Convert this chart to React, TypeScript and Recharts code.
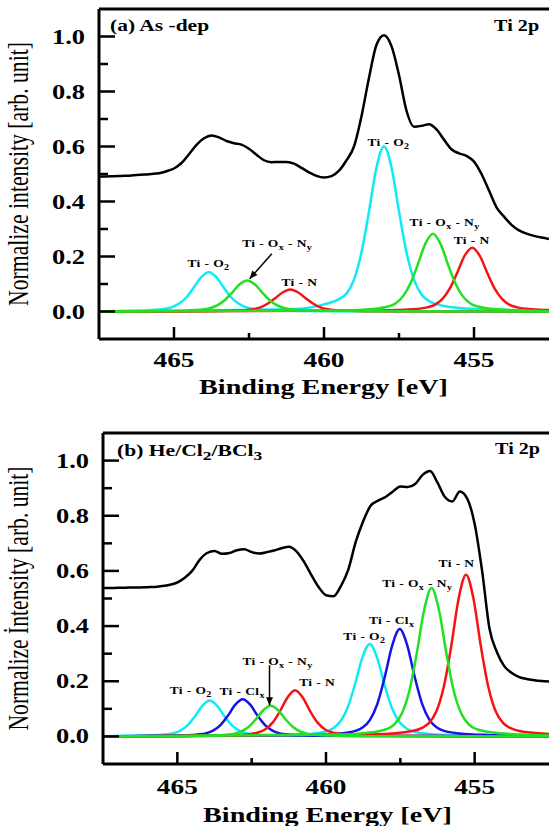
import React from 'react';
import { LineChart, Line, XAxis, YAxis, ReferenceLine, ReferenceDot } from 'recharts';

// ---- axis ticks ----
const energyTicks = [465, 462.5, 460, 457.5, 455];
const intensityTicks = [0, 0.1, 0.2, 0.3, 0.4, 0.5, 0.6, 0.7, 0.8, 0.9, 1.0];

// ---- measured envelope (black), sampled every 0.25 eV ----
const energyGrid = [
  467.5, 467.25, 467, 466.75, 466.5, 466.25, 466, 465.75, 465.5, 465.25,
  465, 464.75, 464.5, 464.25, 464, 463.75, 463.5, 463.25, 463, 462.75,
  462.5, 462.25, 462, 461.75, 461.5, 461.25, 461, 460.75, 460.5, 460.25,
  460, 459.75, 459.5, 459.25, 459, 458.75, 458.5, 458.25, 458, 457.75,
  457.5, 457.25, 457, 456.75, 456.5, 456.25, 456, 455.75, 455.5, 455.25,
  455, 454.75, 454.5, 454.25, 454, 453.75, 453.5, 453.25, 453, 452.75,
  452.5,
];

const totalAsDep = [
  0.490, 0.491, 0.492, 0.493, 0.494, 0.496, 0.498, 0.500, 0.503, 0.510,
  0.520, 0.540, 0.572, 0.606, 0.630, 0.640, 0.633, 0.620, 0.612, 0.607,
  0.592, 0.570, 0.550, 0.543, 0.544, 0.544, 0.538, 0.522, 0.506, 0.493,
  0.487, 0.492, 0.512, 0.550, 0.600, 0.710, 0.850, 0.970, 1.005, 0.965,
  0.860, 0.730, 0.672, 0.675, 0.681, 0.662, 0.625, 0.590, 0.575, 0.566,
  0.545, 0.500, 0.440, 0.379, 0.345, 0.315, 0.295, 0.283, 0.275, 0.269,
  0.264,
];

const totalEtched = [
  0.538, 0.538, 0.539, 0.539, 0.540, 0.540, 0.541, 0.542, 0.545, 0.550,
  0.558, 0.575, 0.600, 0.640, 0.665, 0.672, 0.662, 0.665, 0.675, 0.679,
  0.668, 0.663, 0.668, 0.674, 0.682, 0.688, 0.672, 0.635, 0.587, 0.542,
  0.512, 0.508, 0.545, 0.605, 0.705, 0.780, 0.836, 0.855, 0.868, 0.888,
  0.906, 0.904, 0.915, 0.948, 0.962, 0.920, 0.868, 0.852, 0.888, 0.862,
  0.770, 0.600, 0.390, 0.305, 0.254, 0.230, 0.215, 0.208, 0.204, 0.201,
  0.199,
];

// ---- fitted components, [eV, intensity] ----
// (a) As-dep
const tiO2A_lo = [[467.5, 0], [466.84, 0.002], [465.84, 0.005], [465.34, 0.009], [465.09, 0.015], [464.84, 0.028], [464.59, 0.051], [464.34, 0.087], [464.09, 0.125], [463.84, 0.143], [463.59, 0.125], [463.34, 0.087], [463.09, 0.051], [462.84, 0.028], [462.59, 0.015], [462.34, 0.009], [461.84, 0.005], [460.84, 0.002], [452.5, 0]];
const tiO2A_hi = [[467.5, 0], [461, 0.009], [460, 0.026], [459.5, 0.045], [459.25, 0.065], [459, 0.116], [458.75, 0.215], [458.5, 0.364], [458.25, 0.524], [458, 0.6], [457.75, 0.524], [457.5, 0.364], [457.25, 0.215], [457, 0.116], [456.75, 0.062], [456.5, 0.038], [456, 0.02], [455, 0.009], [452.5, 0.002]];
const tiOxNyA_lo = [[467.5, 0], [465.56, 0.002], [464.56, 0.004], [464.06, 0.007], [463.81, 0.012], [463.56, 0.022], [463.31, 0.041], [463.06, 0.069], [462.81, 0.099], [462.56, 0.113], [462.31, 0.099], [462.06, 0.069], [461.81, 0.041], [461.56, 0.022], [461.31, 0.012], [461.06, 0.007], [460.56, 0.004], [459.56, 0.002], [452.5, 0]];
const tiOxNyA_hi = [[467.5, 0], [459.37, 0.004], [458.37, 0.009], [457.87, 0.018], [457.62, 0.029], [457.37, 0.055], [457.12, 0.102], [456.87, 0.172], [456.62, 0.247], [456.37, 0.283], [456.12, 0.247], [455.87, 0.172], [455.62, 0.102], [455.37, 0.055], [455.12, 0.029], [454.87, 0.018], [454.37, 0.009], [453.37, 0.004], [452.5, 0.001]];
const tiNA_lo = [[467.5, 0], [464.12, 0.001], [463.12, 0.003], [462.62, 0.005], [462.37, 0.008], [462.12, 0.015], [461.87, 0.029], [461.62, 0.049], [461.37, 0.07], [461.12, 0.08], [460.87, 0.07], [460.62, 0.049], [460.37, 0.029], [460.12, 0.015], [459.87, 0.008], [459.62, 0.005], [459.12, 0.003], [458.12, 0.001], [452.5, 0]];
const tiNA_hi = [[467.5, 0], [458.06, 0.004], [457.06, 0.008], [456.56, 0.015], [456.31, 0.024], [456.06, 0.045], [455.81, 0.083], [455.56, 0.141], [455.31, 0.203], [455.06, 0.232], [454.81, 0.203], [454.56, 0.141], [454.31, 0.083], [454.06, 0.045], [453.81, 0.024], [453.56, 0.015], [453.06, 0.008], [452.5, 0.005]];

// (b) He/Cl2/BCl3
const tiO2B_lo = [[467.5, 0], [466.91, 0.002], [465.91, 0.004], [465.41, 0.007], [465.16, 0.011], [464.91, 0.02], [464.66, 0.04], [464.41, 0.072], [464.16, 0.111], [463.91, 0.13], [463.66, 0.111], [463.41, 0.072], [463.16, 0.04], [462.91, 0.02], [462.66, 0.011], [462.41, 0.007], [461.91, 0.004], [460.91, 0.002], [452.5, 0]];
const tiO2B_hi = [[467.5, 0], [461.53, 0.004], [460.53, 0.009], [460.03, 0.017], [459.78, 0.028], [459.53, 0.052], [459.28, 0.102], [459.03, 0.187], [458.78, 0.285], [458.53, 0.335], [458.28, 0.285], [458.03, 0.187], [457.78, 0.102], [457.53, 0.052], [457.28, 0.028], [457.03, 0.017], [456.53, 0.009], [455.53, 0.004], [452.5, 0.001]];
const tiClB_lo = [[467.5, 0], [465.8, 0.002], [464.8, 0.004], [464.3, 0.007], [464.05, 0.011], [463.8, 0.021], [463.55, 0.041], [463.3, 0.075], [463.05, 0.115], [462.8, 0.135], [462.55, 0.115], [462.3, 0.075], [462.05, 0.041], [461.8, 0.021], [461.55, 0.011], [461.3, 0.007], [460.8, 0.004], [459.8, 0.002], [452.5, 0]];
const tiClB_hi = [[467.5, 0], [460.52, 0.005], [459.52, 0.011], [459.02, 0.02], [458.77, 0.032], [458.52, 0.06], [458.27, 0.119], [458.02, 0.217], [457.77, 0.331], [457.52, 0.389], [457.27, 0.331], [457.02, 0.217], [456.77, 0.119], [456.52, 0.06], [456.27, 0.032], [456.02, 0.02], [455.52, 0.011], [454.52, 0.005], [452.5, 0.001]];
const tiOxNyB_lo = [[467.5, 0], [464.86, 0.001], [463.86, 0.003], [463.36, 0.006], [463.11, 0.009], [462.86, 0.017], [462.61, 0.034], [462.36, 0.062], [462.11, 0.095], [461.86, 0.111], [461.61, 0.095], [461.36, 0.062], [461.11, 0.034], [460.86, 0.017], [460.61, 0.009], [460.36, 0.006], [459.86, 0.003], [458.86, 0.001], [452.5, 0]];
const tiOxNyB_hi = [[467.5, 0], [459.45, 0.007], [458.45, 0.015], [457.95, 0.027], [457.7, 0.044], [457.45, 0.083], [457.2, 0.164], [456.95, 0.3], [456.7, 0.458], [456.45, 0.538], [456.2, 0.458], [455.95, 0.3], [455.7, 0.164], [455.45, 0.083], [455.2, 0.044], [454.95, 0.027], [454.45, 0.015], [453.45, 0.007], [452.5, 0.003]];
const tiNB_lo = [[467.5, 0], [464.04, 0.002], [463.04, 0.005], [462.54, 0.009], [462.29, 0.014], [462.04, 0.026], [461.79, 0.051], [461.54, 0.093], [461.29, 0.142], [461.04, 0.167], [460.79, 0.142], [460.54, 0.093], [460.29, 0.051], [460.04, 0.026], [459.79, 0.014], [459.54, 0.009], [459.04, 0.005], [458.04, 0.002], [452.5, 0]];
const tiNB_hi = [[467.5, 0], [458.29, 0.008], [457.29, 0.016], [456.79, 0.03], [456.54, 0.048], [456.29, 0.09], [456.04, 0.179], [455.79, 0.326], [455.54, 0.499], [455.29, 0.586], [455.04, 0.499], [454.79, 0.326], [454.54, 0.179], [454.29, 0.09], [454.04, 0.048], [453.79, 0.03], [453.29, 0.016], [452.5, 0.009]];

// ---- peak labels ----
const notesAsDep = [
  { kind: 'o2', e: 463.85, v: 0.175 },
  { kind: 'oxny', e: 461.56, v: 0.246 },
  { kind: 'n', e: 460.82, v: 0.107 },
  { kind: 'o2', e: 457.85, v: 0.616 },
  { kind: 'oxny', e: 455.98, v: 0.325 },
  { kind: 'n', e: 455.08, v: 0.258 },
];
const notesEtched = [
  { kind: 'n', e: 455.61, v: 0.628 },
  { kind: 'oxny', e: 456.93, v: 0.556 },
  { kind: 'clx', e: 457.79, v: 0.42 },
  { kind: 'o2', e: 458.71, v: 0.362 },
  { kind: 'oxny', e: 461.63, v: 0.272 },
  { kind: 'n', e: 460.3, v: 0.196 },
  { kind: 'o2', e: 464.55, v: 0.167 },
  { kind: 'clx', e: 462.82, v: 0.163 },
];

const FONT = "'Liberation Serif', 'Times New Roman', serif";
const STRETCH = 1.35;
const CYAN = '#10eaf6';
const BLUE = '#1414e6';
const RED = '#f51414';
const GREEN = '#22e022';

const toPts = (pairs: number[][]) => pairs.map(([e, v]) => ({ e, v }));

// horizontally stretched bold serif text; `len` forces the on-screen width
function WideText({ x, y, size, bold = true, anchor = 'middle', spacing = 0, len, children }: any) {
  const fit = len ? { textLength: len / STRETCH, lengthAdjust: 'spacingAndGlyphs' } : {};
  return (
    <text
      transform={`translate(${x},${y}) scale(${STRETCH},1)`}
      textAnchor={anchor}
      dy="0.35em"
      fontSize={size}
      fontWeight={bold ? 'bold' : 'normal'}
      fontFamily={FONT}
      letterSpacing={spacing}
      fill="#000"
      {...fit}
    >
      {children}
    </text>
  );
}

function noteText(kind: string) {
  const sub = (t: string) => <tspan fontSize={7.5} dy={3}>{t}</tspan>;
  if (kind === 'o2') return <>Ti - O{sub('2')}</>;
  if (kind === 'n') return <>Ti - N</>;
  if (kind === 'clx') return <>Ti - Cl{sub('x')}</>;
  return (
    <>
      Ti - O{sub('x')}
      <tspan fontSize={10} dy={-3}> - N</tspan>
      {sub('y')}
    </>
  );
}

const EnergyTick = ({ x, y, payload, labelDy }: any) => {
  const v = payload.value;
  const major = v % 5 === 0;
  return (
    <g>
      <line x1={x} x2={x} y1={y} y2={y - (major ? 12 : 6)} stroke="#000" strokeWidth={2.5} />
      {major && <WideText x={x} y={y + labelDy} size={20} len={41}>{String(v)}</WideText>}
    </g>
  );
};

const IntensityTick = ({ x, y, payload }: any) => {
  const v = payload.value;
  const major = Math.round(v * 10) % 2 === 0;
  return (
    <g>
      <line x1={x} x2={x + (major ? 16 : 9)} y1={y} y2={y} stroke="#000" strokeWidth={2.5} />
      {major && <WideText x={x - 14} y={y} size={20} anchor="end" len={33}>{v.toFixed(1)}</WideText>}
    </g>
  );
};

function Panel({ top, height, marginTop, axisWidth, axisHeight, total, comps, notes, arrow, corner, yTitle, tickDy, titleDy }: any) {
  const black = energyGrid.map((e, i) => ({ e, v: total[i] }));
  return (
    <div style={{ position: 'absolute', left: 0, top }}>
      <LineChart width={549} height={height} margin={{ top: marginTop, right: 0, bottom: 0, left: 0 }}>
        <XAxis
          xAxisId="e"
          dataKey="e"
          type="number"
          domain={[452.5, 467.5]}
          reversed
          allowDataOverflow
          ticks={energyTicks}
          tickLine={false}
          tickSize={0}
          tickMargin={0}
          height={axisHeight}
          axisLine={{ stroke: '#000', strokeWidth: 3 }}
          tick={(p: any) => <EnergyTick {...p} labelDy={tickDy} />}
          label={{
            content: (p: any) => {
              const vb = p.viewBox;
              return (
                <WideText x={vb.x + 100} y={vb.y + titleDy} size={21} anchor="start" len={249}>
                  Binding Energy [eV]
                </WideText>
              );
            },
          }}
        />
        <YAxis
          yAxisId="i"
          type="number"
          domain={[-0.1, 1.1]}
          allowDataOverflow
          ticks={intensityTicks}
          tickLine={false}
          tickSize={0}
          tickMargin={0}
          width={axisWidth}
          axisLine={{ stroke: '#000', strokeWidth: 3 }}
          tick={(p: any) => <IntensityTick {...p} />}
          label={{
            content: (p: any) => {
              const vb = p.viewBox;
              const cx = vb.x + 18;
              const cy = vb.y + vb.height / 2;
              return (
                <text
                  transform={`translate(${cx},${cy}) scale(${STRETCH},1) rotate(-90)`}
                  textAnchor="middle"
                  dy="0.35em"
                  fontSize={22}
                  fontFamily={FONT}
                  textLength={264}
                  lengthAdjust="spacingAndGlyphs"
                  fill="#000"
                >
                  {yTitle}
                </text>
              );
            },
          }}
        />
        <ReferenceLine xAxisId="e" yAxisId="i" y={1.1} stroke="#000" strokeWidth={3} />

        <Line xAxisId="e" yAxisId="i" data={black} dataKey="v" type="monotone" stroke="#000" strokeWidth={2.5} dot={false} activeDot={false} isAnimationActive={false} />
        {comps.map((c: any, ci: number) =>
          c.peaks.map((pk: number[][], pi: number) => (
            <Line
              key={`${ci}-${pi}`}
              xAxisId="e"
              yAxisId="i"
              data={toPts(pk)}
              dataKey="v"
              type="monotone"
              stroke={c.color}
              strokeWidth={2.5}
              dot={false}
              activeDot={false}
              isAnimationActive={false}
            />
          ))
        )}

        {notes.map((n: any, i: number) => (
          <ReferenceDot
            key={`n${i}`}
            xAxisId="e"
            yAxisId="i"
            x={n.e}
            y={n.v}
            r={1}
            ifOverflow="visible"
            shape={(p: any) => (
              <WideText x={p.cx} y={p.cy} size={10} spacing={0.3}>{noteText(n.kind)}</WideText>
            )}
          />
        ))}

        <ReferenceLine
          xAxisId="e"
          yAxisId="i"
          segment={[{ x: arrow.from[0], y: arrow.from[1] }, { x: arrow.to[0], y: arrow.to[1] }]}
          stroke="#000"
          strokeWidth={1.5}
        />
        <ReferenceDot
          xAxisId="e"
          yAxisId="i"
          x={arrow.to[0]}
          y={arrow.to[1]}
          r={1}
          shape={(p: any) => (
            <polygon points="0,0 -8,-3.5 -8,3.5" fill="#000" transform={`translate(${p.cx},${p.cy}) rotate(${arrow.angle})`} />
          )}
        />

        {corner.map((c: any, i: number) => (
          <ReferenceDot
            key={`c${i}`}
            xAxisId="e"
            yAxisId="i"
            x={c.e}
            y={c.v}
            r={1}
            ifOverflow="visible"
            shape={(p: any) => (
              <WideText x={p.cx} y={p.cy} size={16} anchor={c.anchor} len={c.len}>{c.text}</WideText>
            )}
          />
        ))}
      </LineChart>
    </div>
  );
}

const compsAsDep = [
  { color: CYAN, peaks: [tiO2A_lo, tiO2A_hi] },
  { color: RED, peaks: [tiNA_lo, tiNA_hi] },
  { color: GREEN, peaks: [tiOxNyA_lo, tiOxNyA_hi] },
];
const compsEtched = [
  { color: CYAN, peaks: [tiO2B_lo, tiO2B_hi] },
  { color: BLUE, peaks: [tiClB_lo, tiClB_hi] },
  { color: RED, peaks: [tiNB_lo, tiNB_hi] },
  { color: GREEN, peaks: [tiOxNyB_lo, tiOxNyB_hi] },
];

export default function App() {
  return (
    <div style={{ position: 'absolute', left: 0, top: 0, width: 549, height: 826, overflow: 'hidden', background: '#fff' }}>
      <Panel
        top={0}
        height={399}
        marginTop={9}
        axisWidth={99}
        axisHeight={60}
        total={totalAsDep}
        comps={compsAsDep}
        notes={notesAsDep}
        arrow={{ from: [461.74, 0.21], to: [462.48, 0.119], angle: 131.6 }}
        corner={[
          { e: 467.13, v: 1.042, anchor: 'start', text: '(a) As -dep', len: 99 },
          { e: 452.83, v: 1.042, anchor: 'end', text: 'Ti 2p', len: 45 },
        ]}
        yTitle="Normalize intensity [arb. unit]"
        tickDy={21}
        titleDy={47.5}
      />
      <Panel
        top={420}
        height={406}
        marginTop={13}
        axisWidth={103}
        axisHeight={62}
        total={totalEtched}
        comps={compsEtched}
        notes={notesEtched}
        arrow={{ from: [461.9, 0.258], to: [461.9, 0.113], angle: 90 }}
        corner={[
          {
            e: 467.03,
            v: 1.038,
            anchor: 'start',
            text: (
              <>
                (b) He/Cl<tspan fontSize={13} dy={4}>2</tspan>
                <tspan dy={-4}>/BCl</tspan>
                <tspan fontSize={13} dy={4}>3</tspan>
              </>
            ),
          },
          { e: 452.8, v: 1.045, anchor: 'end', text: 'Ti 2p', len: 45 },
        ]}
        yTitle="Normalize İntensity [arb. unit]"
        tickDy={23}
        titleDy={50.7}
      />
    </div>
  );
}
